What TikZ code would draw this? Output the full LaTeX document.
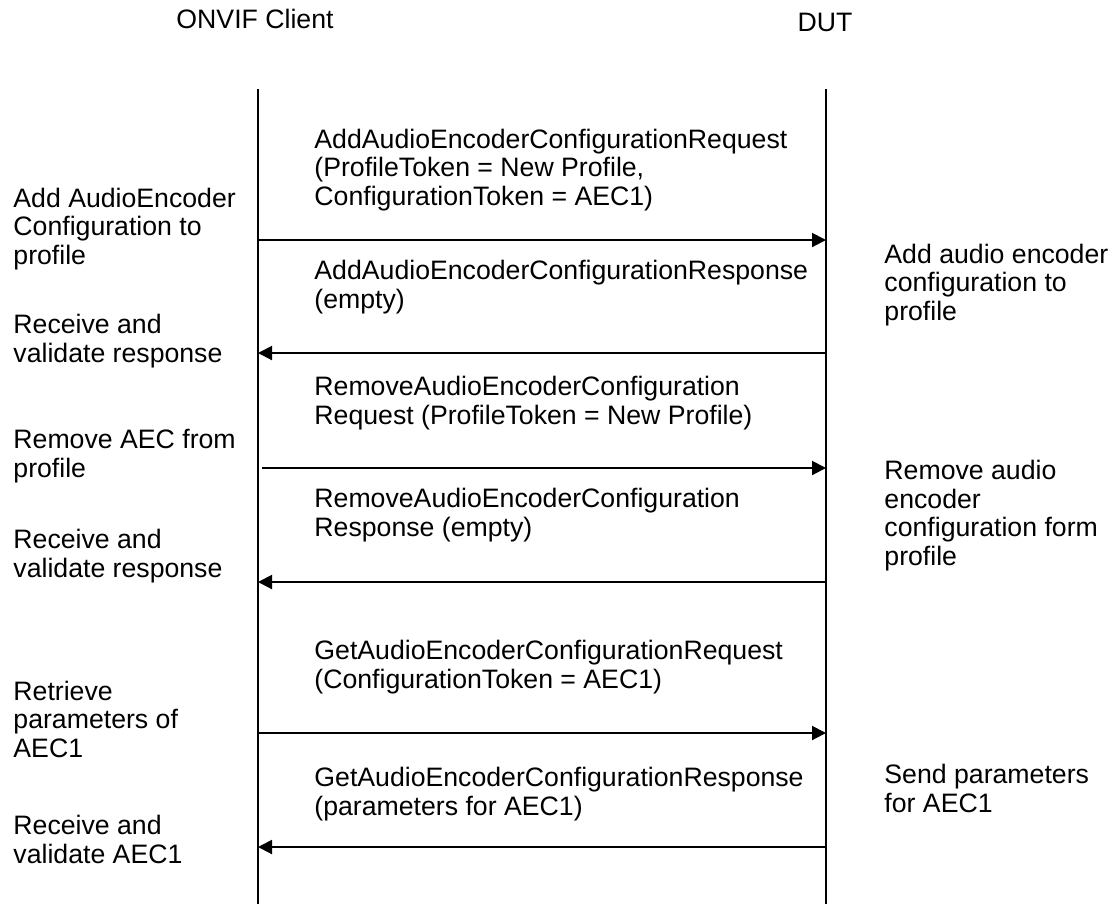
\documentclass[tikz,border=0pt]{standalone}
\usepackage{fontspec}
\setmainfont{Liberation Sans}
\usetikzlibrary{arrows.meta}

\begin{document}
\begin{tikzpicture}[x=0.45pt,y=-0.45pt,
    every node/.style={font=\fontsize{12}{12.8}\selectfont,inner sep=0pt},
    txt/.style={anchor=base west,align=left},
    life/.style={line width=0.6pt},
    msg/.style={line width=0.9pt,-{Triangle[length=6.3pt,width=6.3pt]}}]
  \useasboundingbox (0,0) rectangle (1115,904);
  % Participants
  \node[anchor=base] (client) at (255,28) {ONVIF Client};
  \node[anchor=base] (dut) at (825,31) {DUT};
  % Lifelines
  \coordinate (ctop) at (258,89);
  \coordinate (cbot) at (258,904);
  \coordinate (dtop) at (826,89);
  \coordinate (dbot) at (826,904);
  \draw[life] (ctop) -- (cbot);
  \draw[life] (dtop) -- (dbot);
  % Message ends on the lifelines
  \foreach \n/\y in {1/240,2/353,3/468,4/582,5/733,6/847}{
    \coordinate (c\n) at (258,\y);
    \coordinate (d\n) at (826,\y);
  }
  \draw[msg] (c1) -- (d1);
  \draw[msg] (d2) -- (c2);
  \draw[msg,shorten <=1.8pt] (c3) -- (d3);
  \draw[msg] (d4) -- (c4);
  \draw[msg] (c5) -- (d5);
  \draw[msg] (d6) -- (c6);
  % Message labels (base = last line)
  \node[txt] (m1) at (314,205) {AddAudioEncoderConfigurationRequest\\(ProfileToken = New Profile,\\ConfigurationToken = AEC1)};
  \node[txt] (m2) at (314,308) {AddAudioEncoderConfigurationResponse\\(empty)};
  \node[txt] (m3) at (314,424) {RemoveAudioEncoderConfiguration\\Request (ProfileToken = New Profile)};
  \node[txt] (m4) at (314,536) {RemoveAudioEncoderConfiguration\\Response (empty)};
  \node[txt] (m5) at (314,688) {GetAudioEncoderConfigurationRequest\\(ConfigurationToken = AEC1)};
  \node[txt] (m6) at (314,815) {GetAudioEncoderConfigurationResponse\\(parameters for AEC1)};
  % Client side steps
  \node[txt] (l1) at (13,264) {Add AudioEncoder\\Configuration to\\profile};
  \node[txt] (l2) at (13,362) {Receive and\\validate response};
  \node[txt] (l3) at (13,477) {Remove AEC from\\profile};
  \node[txt] (l4) at (13,577) {Receive and\\validate response};
  \node[txt] (l5) at (13,757) {Retrieve\\parameters of\\AEC1};
  \node[txt] (l6) at (13,863) {Receive and\\validate AEC1};
  % DUT side steps
  \node[txt] (r1) at (884,320) {Add audio encoder\\configuration to\\profile};
  \node[txt] (r2) at (884,565) {Remove audio\\encoder\\configuration form\\profile};
  \node[txt] (r3) at (884,812) {Send parameters\\for AEC1};
\end{tikzpicture}
\end{document}
